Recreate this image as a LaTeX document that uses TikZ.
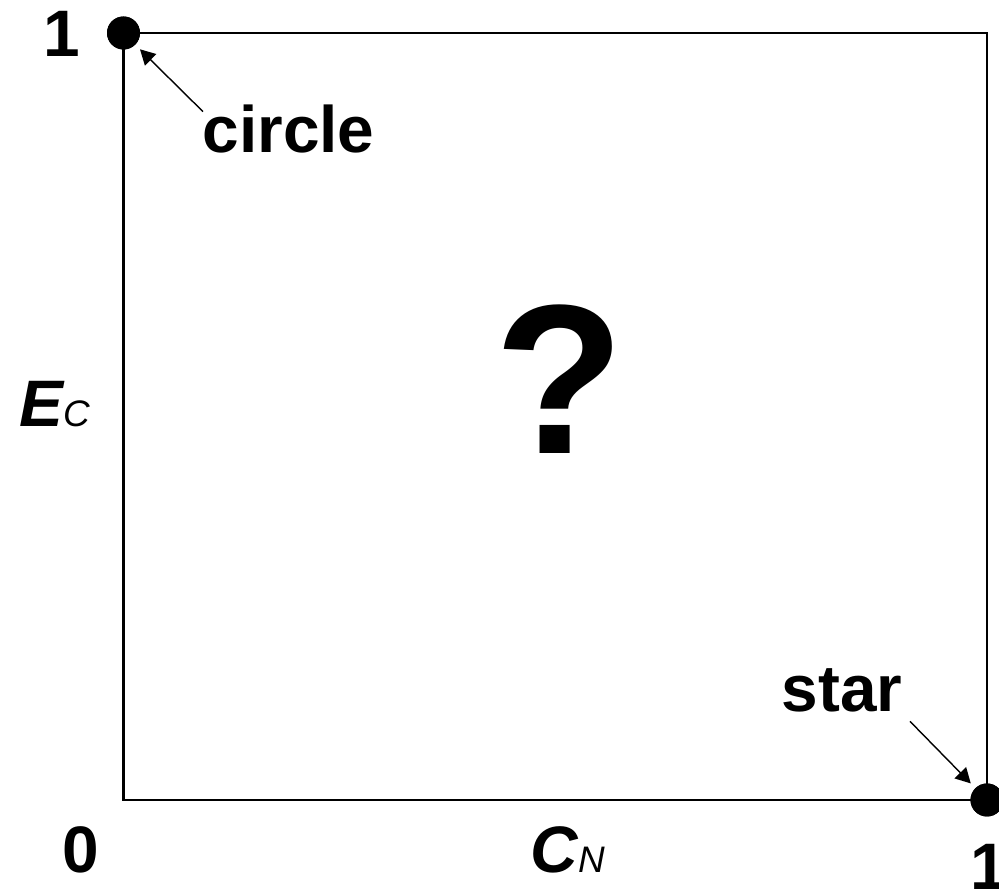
\documentclass[tikz,border=0pt]{standalone}
\usepackage{fontspec}
\setmainfont{Liberation Sans}
\usepackage{tikz}
\usetikzlibrary{arrows.meta, positioning}

\begin{document}
\begin{tikzpicture}[
    dot/.style={circle, fill=black, inner sep=0pt, minimum size=0.33cm},
    lbl/.style={anchor=base west, inner sep=0pt, font=\fontsize{18.7}{22}\selectfont\bfseries},
    axis/.style={anchor=base west, inner sep=0pt, font=\fontsize{18.7}{22}\selectfont\bfseries\itshape},
    arrow/.style={-{Triangle[length=1.5mm, width=1.6mm]}, line width=0.4pt, shorten >=0.06cm},
    frame/.style={line width=0.6pt}
]
\useasboundingbox (0,0) rectangle (9.99,8.90);
\node[dot] (topdot) at (1.235,8.57) {};
\node[dot] (botdot) at (9.87,0.90) {};
\draw[frame] (topdot.center) rectangle (botdot.center);
\fill (topdot) circle (0.165);
\fill (botdot) circle (0.165);
\node[lbl] (ytop) at (0.43,8.33) {1};
\node[lbl] (origin) at (0.62,0.17) {0};
\node[lbl] (xend) at (9.70,0.00) {1};
\node[axis] (ylab) at (0.19,4.63) {E{\fontsize{10.5}{13}\selectfont\mdseries C}};
\node[axis] (xlab) at (5.30,0.17) {C{\fontsize{10.5}{13}\selectfont\mdseries N}};
\node[lbl] (circlelbl) at (2.02,7.37) {circle};
\node[lbl] (starlbl) at (7.81,1.78) {star};
\node[inner sep=0pt, font=\fontsize{60.6}{70}\selectfont\bfseries] (quest) at (5.595,5.105) {?};
\draw[arrow] ([shift={(0.01,-0.07)}]circlelbl.north west) -- (topdot);
\draw[arrow] ([shift={(0.07,-0.08)}]starlbl.south east) -- (botdot);
\end{tikzpicture}
\end{document}
